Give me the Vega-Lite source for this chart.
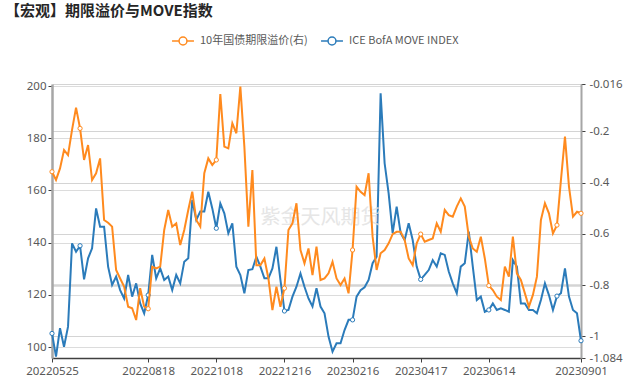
{
"$schema": "https://vega.github.io/schema/vega-lite/v6.json",
"width": 529, "height": 274,
"autosize": {"type": "none"},
"padding": {"left": 52, "top": 84, "right": 48, "bottom": 20},
"background": "white",
"title": {"text": "【宏观】期限溢价与MOVE指数", "anchor": "start", "frame": "group", "dx": -47, "offset": 10, "fontSize": 15, "fontWeight": "bold", "color": "#262626", "font": "Noto Sans CJK SC"},
"config": {"font": "Noto Sans CJK SC", "view": {"stroke": null}, "axis": {"labelFont": "Noto Sans", "labelFontSize": 11.5, "labelColor": "#595959", "titleFontSize": 11}},
"datasets": {"s": [
{"d":"20220525","move":105.2,"tp":-0.358},{"d":"20220528","move":96.3,"tp":-0.390},{"d":"20220601","move":107.2,"tp":-0.345},{"d":"20220604","move":100.1,"tp":-0.273},{"d":"20220608","move":107.8,"tp":-0.293},{"d":"20220611","move":139.7,"tp":-0.195},{"d":"20220615","move":136.5,"tp":-0.108},{"d":"20220618","move":138.8,"tp":-0.189},{"d":"20220622","move":125.9,"tp":-0.312},{"d":"20220625","move":134.0,"tp":-0.254},
{"d":"20220629","move":137.8,"tp":-0.390},{"d":"20220702","move":153.1,"tp":-0.364},{"d":"20220706","move":146.1,"tp":-0.306},{"d":"20220709","move":146.1,"tp":-0.546},{"d":"20220713","move":130.8,"tp":-0.557},{"d":"20220716","move":123.8,"tp":-0.572},{"d":"20220720","move":127.0,"tp":-0.741},{"d":"20220723","move":121.8,"tp":-0.774},{"d":"20220727","move":118.6,"tp":-0.806},{"d":"20220730","move":127.6,"tp":-0.884},
{"d":"20220803","move":119.3,"tp":-0.890},{"d":"20220806","move":124.4,"tp":-0.936},{"d":"20220810","move":116.7,"tp":-0.812},{"d":"20220814","move":112.9,"tp":-0.884},{"d":"20220818","move":119.9,"tp":-0.892},{"d":"20220821","move":135.3,"tp":-0.728},{"d":"20220825","move":126.3,"tp":-0.735},{"d":"20220828","move":130.1,"tp":-0.728},{"d":"20220901","move":125.7,"tp":-0.585},{"d":"20220904","move":127.0,"tp":-0.507},
{"d":"20220908","move":121.8,"tp":-0.572},{"d":"20220911","move":127.6,"tp":-0.559},{"d":"20220915","move":124.4,"tp":-0.644},{"d":"20220918","move":132.7,"tp":-0.585},{"d":"20220922","move":134.0,"tp":-0.507},{"d":"20220925","move":156.3,"tp":-0.436},{"d":"20220929","move":148.7,"tp":-0.546},{"d":"20221003","move":151.9,"tp":-0.572},{"d":"20221007","move":151.9,"tp":-0.364},{"d":"20221010","move":159.5,"tp":-0.306},
{"d":"20221014","move":153.1,"tp":-0.332},{"d":"20221018","move":145.5,"tp":-0.312},{"d":"20221021","move":155.0,"tp":-0.055},{"d":"20221025","move":151.2,"tp":-0.260},{"d":"20221028","move":143.6,"tp":-0.267},{"d":"20221101","move":147.4,"tp":-0.169},{"d":"20221104","move":130.8,"tp":-0.208},{"d":"20221108","move":127.6,"tp":-0.026},{"d":"20221111","move":120.6,"tp":-0.260},{"d":"20221115","move":129.5,"tp":-0.572},
{"d":"20221118","move":129.8,"tp":-0.351},{"d":"20221122","move":134.6,"tp":-0.722},{"d":"20221125","move":130.8,"tp":-0.722},{"d":"20221129","move":126.3,"tp":-0.696},{"d":"20221202","move":126.3,"tp":-0.774},{"d":"20221206","move":130.1,"tp":-0.897},{"d":"20221209","move":138.4,"tp":-0.806},{"d":"20221213","move":125.7,"tp":-0.884},{"d":"20221216","move":113.8,"tp":-0.812},{"d":"20221219","move":114.2,"tp":-0.585},
{"d":"20221223","move":119.3,"tp":-0.559},{"d":"20221227","move":123.1,"tp":-0.481},{"d":"20221230","move":128.2,"tp":-0.663},{"d":"20230103","move":123.1,"tp":-0.715},{"d":"20230106","move":118.6,"tp":-0.657},{"d":"20230110","move":115.5,"tp":-0.761},{"d":"20230114","move":122.5,"tp":-0.650},{"d":"20230117","move":115.5,"tp":-0.780},{"d":"20230121","move":112.9,"tp":-0.774},{"d":"20230125","move":104.0,"tp":-0.754},
{"d":"20230128","move":98.2,"tp":-0.709},{"d":"20230201","move":101.4,"tp":-0.774},{"d":"20230205","move":101.4,"tp":-0.800},{"d":"20230208","move":106.5,"tp":-0.774},{"d":"20230212","move":110.4,"tp":-0.832},{"d":"20230216","move":110.4,"tp":-0.663},{"d":"20230219","move":119.3,"tp":-0.416},{"d":"20230223","move":121.8,"tp":-0.436},{"d":"20230226","move":122.9,"tp":-0.449},{"d":"20230302","move":125.7,"tp":-0.364},
{"d":"20230305","move":132.1,"tp":-0.611},{"d":"20230309","move":134.6,"tp":-0.741},{"d":"20230312","move":197.2,"tp":-0.676},{"d":"20230316","move":170.4,"tp":-0.663},{"d":"20230319","move":158.9,"tp":-0.637},{"d":"20230323","move":143.6,"tp":-0.601},{"d":"20230326","move":153.8,"tp":-0.592},{"d":"20230330","move":143.6,"tp":-0.592},{"d":"20230402","move":141.0,"tp":-0.624},{"d":"20230406","move":147.4,"tp":-0.696},
{"d":"20230409","move":141.0,"tp":-0.722},{"d":"20230413","move":130.8,"tp":-0.637},{"d":"20230417","move":125.9,"tp":-0.601},{"d":"20230420","move":127.6,"tp":-0.631},{"d":"20230424","move":129.5,"tp":-0.624},{"d":"20230427","move":133.3,"tp":-0.618},{"d":"20230501","move":130.8,"tp":-0.559},{"d":"20230504","move":135.9,"tp":-0.592},{"d":"20230507","move":135.3,"tp":-0.507},{"d":"20230511","move":128.9,"tp":-0.527},
{"d":"20230514","move":124.4,"tp":-0.533},{"d":"20230518","move":120.6,"tp":-0.494},{"d":"20230521","move":130.8,"tp":-0.462},{"d":"20230524","move":132.1,"tp":-0.494},{"d":"20230528","move":144.2,"tp":-0.611},{"d":"20230531","move":130.8,"tp":-0.657},{"d":"20230604","move":118.0,"tp":-0.670},{"d":"20230607","move":119.3,"tp":-0.611},{"d":"20230610","move":113.5,"tp":-0.696},{"d":"20230614","move":114.2,"tp":-0.802},
{"d":"20230617","move":116.7,"tp":-0.819},{"d":"20230621","move":114.2,"tp":-0.845},{"d":"20230624","move":114.8,"tp":-0.858},{"d":"20230628","move":114.2,"tp":-0.728},{"d":"20230701","move":113.5,"tp":-0.767},{"d":"20230705","move":133.3,"tp":-0.611},{"d":"20230708","move":130.8,"tp":-0.754},{"d":"20230712","move":116.7,"tp":-0.780},{"d":"20230715","move":116.7,"tp":-0.832},{"d":"20230719","move":114.2,"tp":-0.884},
{"d":"20230722","move":114.2,"tp":-0.838},{"d":"20230726","move":112.9,"tp":-0.767},{"d":"20230729","move":118.0,"tp":-0.546},{"d":"20230802","move":124.4,"tp":-0.481},{"d":"20230805","move":119.9,"tp":-0.520},{"d":"20230809","move":114.2,"tp":-0.598},{"d":"20230812","move":119.5,"tp":-0.566},{"d":"20230816","move":120.6,"tp":-0.390},{"d":"20230819","move":130.1,"tp":-0.221},{"d":"20230822","move":119.3,"tp":-0.416},
{"d":"20230825","move":114.2,"tp":-0.533},{"d":"20230829","move":112.9,"tp":-0.514},{"d":"20230901","move":102.4,"tp":-0.520}
]},
"data": {"name": "s"},
"encoding": {
  "x": {"field": "d", "type": "ordinal", "scale": {"type": "point", "padding": 0},
        "axis": {"values": ["20220525","20220818","20221018","20221216","20230216","20230417","20230614","20230901"], "labelAngle": 0, "title": null, "domainColor": "#404040", "domainWidth": 1.5, "tickColor": "#404040", "tickSize": 4, "labelOverlap": false, "labelPadding": 3, "grid": false}}
},
"layer": [
  {"layer": [
    {"mark": {"type": "line", "strokeWidth": 2},
     "encoding": {
       "y": {"field": "move", "type": "quantitative", "scale": {"domain": [95.79, 200.77], "nice": false, "zero": false},
             "axis": {"orient": "left", "values": [100,120,140,160,180,200], "title": null, "grid": true, "gridColor": "#dcdcdc", "domainColor": "#a6a6a6", "domainWidth": 2.5, "tickColor": "#404040", "tickSize": 4, "labelPadding": 2, "labelOverlap": false}},
       "color": {"datum": "ICE BofA MOVE INDEX", "type": "nominal",
                 "scale": {"domain": ["10年国债期限溢价(右)", "ICE BofA MOVE INDEX"], "range": ["#FF8A1E", "#2B7BBA"]},
                 "legend": {"orient": "none", "legendX": 119, "legendY": -55, "direction": "horizontal", "title": null, "padding": 0,
                            "symbolType": "M-1,0L-0.36,0M0.36,0L1,0M-0.36,0A0.36,0.36,0,1,1,0.36,0A0.36,0.36,0,1,1,-0.36,0",
                            "symbolSize": 480, "symbolStrokeWidth": 1.5, "labelFontSize": 11, "labelColor": "#595959", "labelFont": "Noto Sans CJK SC", "columnPadding": 10, "labelOffset": 5}}
     }},
    {"transform": [{"filter": {"field": "d", "oneOf": ["20220525","20220618","20220818","20221018","20221216","20230216","20230417","20230614","20230812","20230901"]}}],
     "mark": {"type": "point", "filled": false, "fill": "white", "size": 18, "strokeWidth": 1, "opacity": 1},
     "encoding": {"y": {"field": "move", "type": "quantitative"}, "color": {"datum": "ICE BofA MOVE INDEX", "type": "nominal"}}},
    {"data": {"values": [{"t": "紫金天风期货"}]},
     "mark": {"type": "text", "fontSize": 20, "color": "#e0e0e0", "opacity": 0.8, "align": "center", "baseline": "middle", "font": "Noto Sans CJK SC"},
     "encoding": {"x": {"datum": "20230117"}, "y": {"datum": 149.4}, "text": {"field": "t"}}}
  ]},
  {"layer": [
    {"mark": {"type": "line", "strokeWidth": 2},
     "encoding": {
       "y": {"field": "tp", "type": "quantitative", "scale": {"domain": [-1.084, -0.016], "nice": false, "zero": false},
             "axis": {"orient": "right", "values": [-0.016,-0.2,-0.4,-0.6,-0.8,-1,-1.084], "labelExpr": "'' + datum.value", "title": null, "grid": true, "gridColor": "#d4d4d4",
                      "gridWidth": {"condition": {"test": "datum.value == -0.8", "value": 2.5}, "value": 1},
                      "domainColor": "#a6a6a6", "domainWidth": 2, "tickColor": "#404040", "tickSize": 4, "labelPadding": 4, "labelOverlap": false}},
       "color": {"datum": "10年国债期限溢价(右)", "type": "nominal"}
     }},
    {"transform": [{"filter": {"field": "d", "oneOf": ["20220525","20220618","20220818","20221018","20221216","20230216","20230417","20230614","20230812","20230901"]}}],
     "mark": {"type": "point", "filled": false, "fill": "white", "size": 18, "strokeWidth": 1, "opacity": 1},
     "encoding": {"y": {"field": "tp", "type": "quantitative"}, "color": {"datum": "10年国债期限溢价(右)", "type": "nominal"}}}
  ]}
],
"resolve": {"scale": {"y": "independent"}}
}
